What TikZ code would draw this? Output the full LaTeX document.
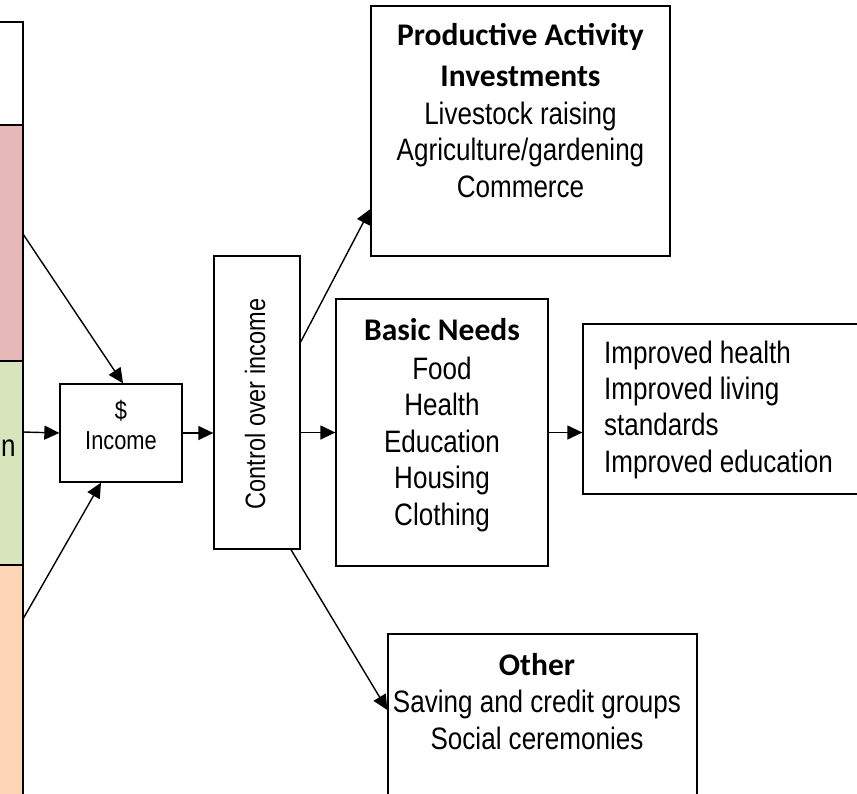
\documentclass[tikz,border=0pt]{standalone}
\usepackage{fontspec}
\setmainfont[FakeStretch=0.84]{Liberation Sans}
\newfontfamily\headfont{Carlito}
\usetikzlibrary{arrows.meta}
\definecolor{rowpink}{HTML}{E6B8B7}
\definecolor{rowgreen}{HTML}{D8E4BC}
\definecolor{rowpeach}{HTML}{FCD5B4}
\tikzset{
    box/.style={draw, line width=1.3pt, inner sep=0pt},
    head/.style={font=\headfont\bfseries\fontsize{31.5}{41}\selectfont, align=center, inner sep=0pt},
    body/.style={font=\fontsize{31}{36.5}\selectfont, align=center, inner sep=0pt},
    link/.style={-{Triangle[length=15pt,width=14pt]}, line width=1.4pt}
}
\begin{document}
\begin{tikzpicture}[x=1pt,y=-1pt]
    \useasboundingbox (0,0) rectangle (857,793);
    %Left column
        \fill[rowpink] (-5,125) rectangle (23,361);
        \fill[rowgreen] (-5,361) rectangle (23,565);
        \fill[rowpeach] (-5,565) rectangle (23,800);
        \draw[line width=1.7pt] (-5,22) -- (23,22) -- (23,800);
        \draw[line width=1.7pt] (-5,125) -- (23,125);
        \draw[line width=1.7pt] (-5,361) -- (23,361);
        \draw[line width=1.7pt] (-5,565) -- (23,565);
        \node[body, anchor=base west] (cut) at (1,456) {n};
        \coordinate (pinkout) at (23,234);
        \coordinate (greenout) at (23,432);
        \coordinate (peachout) at (23,619);
    %Boxes
        \node[box, minimum width=122pt, minimum height=98pt] (income) at (121,433) {};
        \node[body, font=\fontsize{26}{30}\selectfont, anchor=base] (incometext) at (121,449) {\$\\Income};
        \node[box, minimum width=86pt, minimum height=293pt] (control) at (257,402.5) {};
        \node[body, font=\fontsize{28}{34}\selectfont, rotate=90] (controltext) at (255,404) {Control over income};
        \node[box, minimum width=299pt, minimum height=250pt] (prod) at (520.5,131) {};
        \node[head, anchor=base] (prodhead) at (520.5,86) {Productive Activity\\Investments};
        \node[body, anchor=base] (prodtext) at (520.5,197) {Livestock raising\\Agriculture/gardening\\Commerce};
        \node[box, minimum width=212pt, minimum height=267pt] (basic) at (442,432.5) {};
        \node[head, anchor=base] (basichead) at (442,340) {Basic Needs};
        \node[body, anchor=base] (basictext) at (442,525) {Food\\Health\\Education\\Housing\\Clothing};
        \node[box, minimum width=290pt, minimum height=170pt] (improved) at (728,409) {};
        \node[body, font=\fontsize{31}{36.3}\selectfont, align=left, anchor=base west] (improvedtext) at (604,472) {Improved health\\Improved living\\standards\\Improved education};
        \node[box, minimum width=309pt, minimum height=176pt] (other) at (542.5,722) {};
        \node[head, anchor=base] (otherhead) at (537,675) {Other};
        \node[body, anchor=base] (othertext) at (537,749) {Saving and credit groups\\Social ceremonies};
    %Arrows
        \draw[link] (pinkout) -- ([xshift=2pt]income.north);
        \draw[link] (greenout) -- (income.west);
        \draw[link] (peachout) -- ([xshift=-20pt]income.south);
        \draw[link] (income.east) -- (income.east -| control.west);
        \draw[link] ([yshift=60.5pt]control.east) -- ([yshift=-78pt]prod.west);
        \draw[link] (control.east |- basic.west) -- (basic.west);
        \draw[link] (basic.east) -- (basic.east -| improved.west);
        \draw[link] ([xshift=34pt]control.south) -- ([yshift=12pt]other.west);
\end{tikzpicture}
\end{document}
